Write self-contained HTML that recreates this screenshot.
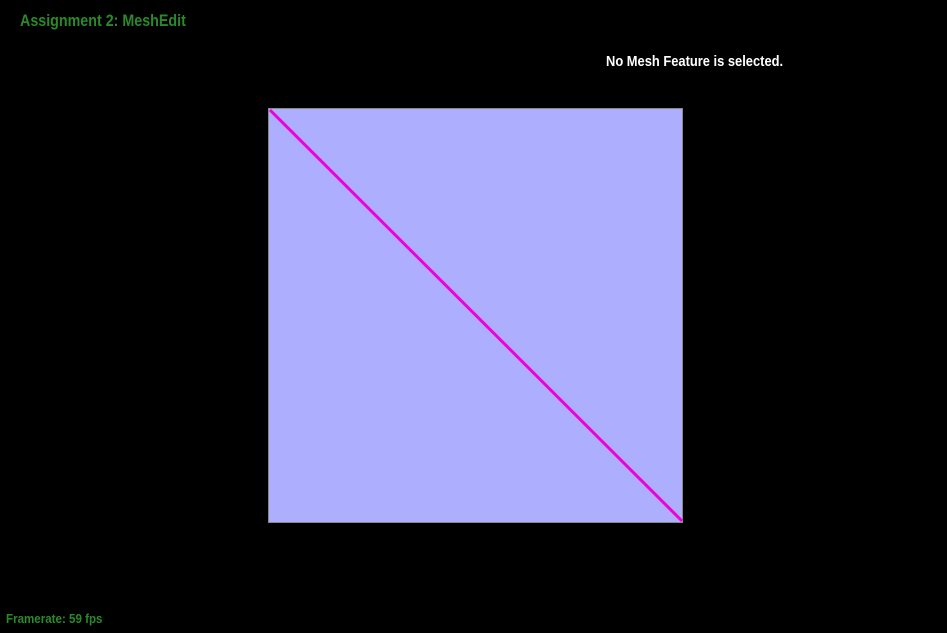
<!DOCTYPE html>
<html><head><meta charset="utf-8"><style>
html,body{margin:0;padding:0;background:#000;width:947px;height:633px;overflow:hidden;position:relative;font-family:"Liberation Sans",sans-serif;font-weight:bold}
.t{position:absolute;white-space:nowrap;transform-origin:0 0}
</style></head><body>
<div class="t" style="left:20px;top:11px;font-size:17px;color:#2a8a2a;transform:scaleX(0.84)">Assignment 2: MeshEdit</div>
<div class="t" style="left:606px;top:53px;font-size:15px;color:#fff;transform:scaleX(0.86)">No Mesh Feature is selected.</div>
<svg width="947" height="633" style="position:absolute;left:0;top:0">
<rect x="268.5" y="108.5" width="414" height="414" fill="#aeaeff" stroke="#888" stroke-width="1"/>
<line x1="270" y1="110" x2="682" y2="521" stroke="#f000d8" stroke-width="3"/>
</svg>
<div class="t" style="left:6px;top:611px;font-size:13px;color:#2a8a2a;transform:scaleX(0.89)">Framerate: 59 fps</div>
</body></html>
